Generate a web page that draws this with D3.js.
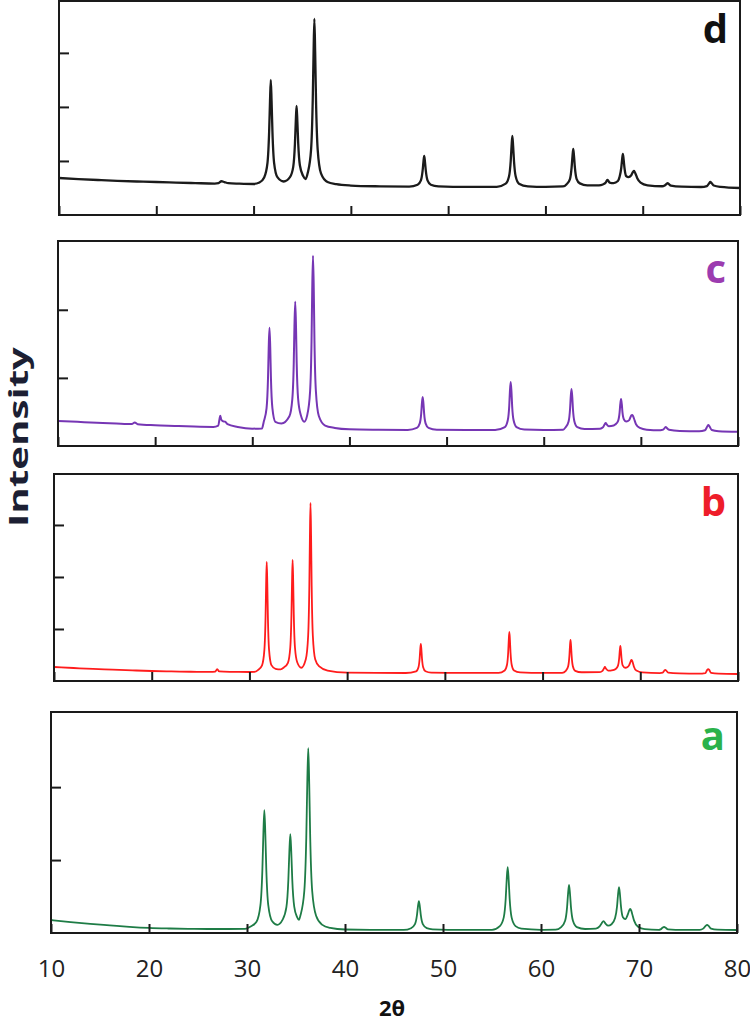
<!DOCTYPE html>
<html>
<head>
<meta charset="utf-8">
<script src="https://cdn.jsdelivr.net/npm/d3@7"></script>
<style>
  body { margin: 0; background: #fff; }
  svg text { font-family: "Open Sans", "DejaVu Sans", sans-serif; }
</style>
</head>
<body>
<div id="xrd"></div>
<script>
// ---- data ----
var sampleNames = ["d", "c", "b", "a"];
var xTicks = [10, 20, 30, 40, 50, 60, 70, 80];
var yTicksD = [1000, 2000, 3000],
    yTicksC = [1000, 2000],
    yTicksB = [1000, 2000, 3000],
    yTicksA = [1000, 2000];
var yMaxes = [3960, 3010, 3980, 3030];

// [2theta, intensity]
var xrdD = [[10,685],[12,665],[14,648],[16,632],[18,620],[20,611],[22,600],[24,590],[26,582],[26.4,590],[26.7,625],[27.0,610],[27.4,588],[28.5,580],[30,574],[30.6,600],
  [31.09,695],[31.43,965],[31.60,1540],[31.69,2115],[31.77,2500],[31.85,2115],[31.94,1540],[32.11,965],[32.45,700],[33.1,620],
  [33.74,700],[34.08,895],[34.25,1315],[34.34,1735],[34.42,2018],[34.50,1735],[34.59,1320],[34.76,920],[35.1,720],[35.35,665],
  [35.57,780],[35.91,1210],[36.08,2115],[36.17,3025],[36.25,3630],[36.33,3025],[36.42,2115],[36.59,1210],[36.93,770],[37.6,610],[38.5,570],[40,545],[43,530],[46,525],
  [46.86,560],[47.20,640],[47.37,810],[47.46,980],[47.54,1093],[47.62,980],[47.71,810],[47.88,640],[48.22,560],[49,530],[52,520],[55,522],
  [55.92,580],[56.26,715],[56.43,995],[56.52,1275],[56.6,1463],[56.68,1275],[56.77,995],[56.94,715],[57.28,580],[58.2,530],[60,520],[61.8,528],
  [62.18,570],[62.52,665],[62.69,875],[62.78,1085],[62.86,1222],[62.94,1085],[63.03,875],[63.20,670],[63.54,585],[64.3,548],[65.5,550],
  [65.9,565],[66.2,600],[66.3,635],[66.38,648],[66.46,632],[66.6,600],[67.0,590],[67.45,630],
  [67.62,706],[67.79,865],[67.88,1024],[67.96,1130],[68.04,1024],[68.13,865],[68.30,720],[68.55,700],
  [68.8,730],[68.93,775],[69.02,800],[69.1,815],[69.18,795],[69.27,760],[69.44,680],[69.78,600],[70.5,550],[72,532],
  [72.25,545],[72.45,575],[72.56,590],[72.67,575],[72.9,545],[74,525],[76,518],
  [76.6,535],[76.82,585],[76.95,611],[77.08,590],[77.3,545],[78,520],[80,500]];

var xrdC = [[10,368],[12,355],[14,342],[16,330],[17.6,322],[17.9,345],[18.2,320],[20,305],[22,295],[24,285],[26,280],[26.5,300],
  [26.62,390],[26.7,446],[26.78,400],[26.95,365],[27.2,357],[27.45,320],[28.5,280],[30,255],[31.0,258],
  [31.17,350],[31.47,555],[31.62,1000],[31.69,1440],[31.77,1735],[31.85,1440],[31.92,1000],[32.07,555],[32.37,355],[33.0,330],
  [33.82,437],[34.12,688],[34.27,1224],[34.34,1760],[34.42,2118],[34.50,1760],[34.57,1224],[34.72,690],[35.0,450],[35.35,357],
  [35.65,450],[35.95,800],[36.10,1547],[36.17,2295],[36.25,2794],[36.33,2295],[36.40,1547],[36.55,800],[36.85,440],[37.5,300],[38.5,265],[40,245],[43,238],[46,235],
  [46.94,265],[47.24,332],[47.39,478],[47.46,623],[47.54,720],[47.62,623],[47.69,478],[47.84,332],[48.14,265],[49,238],[52,235],[55,236],
  [56.0,278],[56.3,377],[56.45,588],[56.52,800],[56.6,941],[56.68,800],[56.75,588],[56.9,377],[57.2,278],[58,242],[60,236],[62,240],
  [62.26,276],[62.56,360],[62.71,539],[62.78,718],[62.86,838],[62.94,718],[63.01,539],[63.16,360],[63.46,276],[64.2,250],[65.8,255],
  [66.1,275],[66.28,320],[66.38,338],[66.48,318],[66.7,290],[67.2,300],
  [67.36,315],[67.66,370],[67.81,490],[67.88,610],[67.96,690],[68.04,610],[68.11,490],[68.26,390],[68.5,360],
  [68.8,380],[68.95,430],[69.02,448],[69.1,456],[69.18,445],[69.3,400],[69.5,320],[69.9,265],[70.6,240],[72,232],
  [72.3,240],[72.48,270],[72.56,280],[72.65,268],[72.9,238],[74,222],[76,218],
  [76.6,232],[76.85,290],[76.95,309],[77.05,292],[77.3,235],[78,218],[80,210]];

var xrdB = [[10,269],[12,250],[14,232],[16,218],[18,205],[20,192],[22,185],[24,178],[26,175],[26.5,180],[26.7,230],[26.9,185],[28,176],[30,173],[30.5,175],
  [30.87,210],[31.29,302],[31.53,598],[31.65,1232],[31.71,1866],[31.77,2288],[31.83,1866],[31.89,1232],[32.01,598],[32.25,305],[32.67,235],[33.2,225],
  [33.52,260],[33.94,350],[34.18,645],[34.30,1276],[34.36,1906],[34.42,2327],[34.48,1906],[34.54,1276],[34.66,645],[34.90,355],[35.3,255],
  [35.77,420],[36.01,870],[36.13,1827],[36.19,2784],[36.25,3423],[36.31,2784],[36.37,1827],[36.49,870],[36.73,420],[37.15,280],[38,200],[40,160],[43,155],[46,154],
  [47.06,187],[47.30,266],[47.42,433],[47.48,600],[47.54,712],[47.60,600],[47.66,433],[47.78,266],[48.02,187],[48.6,162],[52,155],[55.5,155],
  [56.12,202],[56.36,312],[56.48,548],[56.54,785],[56.6,942],[56.66,785],[56.72,548],[56.84,312],[57.08,202],[57.7,165],[60,155],[62,158],
  [62.38,196],[62.62,284],[62.74,473],[62.80,662],[62.86,788],[62.92,662],[62.98,473],[63.10,284],[63.34,196],[64,168],[65.8,170],
  [66.1,190],[66.28,240],[66.38,269],[66.48,240],[66.7,200],[67.2,210],
  [67.48,230],[67.72,295],[67.84,437],[67.90,580],[67.96,673],[68.02,580],[68.08,437],[68.20,300],[68.45,255],[68.7,270],
  [68.85,300],[68.98,360],[69.04,390],[69.1,404],[69.16,390],[69.22,360],[69.34,280],[69.6,200],[70.2,165],[72,152],
  [72.3,160],[72.46,200],[72.56,212],[72.66,200],[72.85,160],[74,145],[76,140],
  [76.65,150],[76.85,215],[76.95,230],[77.05,215],[77.25,155],[78,140],[80,135]];

var xrdA = [[10,178],[12,150],[14,125],[16,105],[18,85],[20,70],[22,62],[24,57],[26,55],[28,55],[29.8,56],
  [30.37,89],[30.97,154],[31.37,382],[31.57,871],[31.67,1359],[31.77,1685],[31.87,1359],[31.97,871],[32.17,382],[32.57,160],[33.1,112],
  [33.62,180],[34.02,355],[34.22,730],[34.32,1106],[34.42,1356],[34.52,1106],[34.62,730],[34.82,360],[35.1,220],[35.3,180],
  [35.45,240],[35.85,580],[36.05,1312],[36.15,2045],[36.25,2534],[36.35,2045],[36.45,1312],[36.65,580],[37.05,236],[37.65,115],[38.5,70],[40,48],[44,43],[46,42],
  [46.74,66],[47.14,121],[47.34,240],[47.44,359],[47.54,438],[47.64,359],[47.74,240],[47.94,121],[48.34,66],[48.94,50],[52,42],[55,42],
  [55.8,94],[56.2,214],[56.4,473],[56.5,732],[56.6,904],[56.7,732],[56.8,473],[57.0,214],[57.4,94],[58.0,59],[60,44],[61.5,45],
  [62.06,81],[62.46,167],[62.66,351],[62.76,535],[62.86,658],[62.96,535],[63.06,351],[63.26,167],[63.66,81],[64.5,55],[65.6,60],
  [65.98,90],[66.18,130],[66.38,164],[66.58,130],[66.85,100],[67.2,120],
  [67.56,206],[67.76,365],[67.86,524],[67.96,630],[68.06,524],[68.16,365],[68.36,215],[68.6,190],
  [68.9,270],[69.0,310],[69.1,329],[69.2,310],[69.3,265],[69.5,170],[69.9,85],[70.6,52],[72,44],
  [72.2,50],[72.4,72],[72.56,82],[72.72,72],[72.95,50],[74.5,42],[76.2,44],
  [76.55,60],[76.8,98],[76.95,110],[77.1,98],[77.35,60],[78,45],[80,41]];

// ---- layout ----
var W = 750, H = 1021;
var panels = [
  {data: xrdD, ticks: yTicksD, left: 59, right: 740, top: 1,   bottom: 215, line: "#1b1b1b", lab: "#111111", lw: 2.3},
  {data: xrdC, ticks: yTicksC, left: 58, right: 738, top: 241, bottom: 446, line: "#7636b4", lab: "#9c3cb0", lw: 2},
  {data: xrdB, ticks: yTicksB, left: 54, right: 738, top: 474, bottom: 681, line: "#ff1c1c", lab: "#ee1d2a", lw: 1.8},
  {data: xrdA, ticks: yTicksA, left: 51, right: 737, top: 712, bottom: 933, line: "#1e7c46", lab: "#2bb24a", lw: 1.8}
];

var svg = d3.select("#xrd")
  .append("svg")
    .attr("width", W)
    .attr("height", H);

panels.forEach(function(p, i) {
  var x = d3.scaleLinear().domain([10, 80]).range([p.left, p.right]);
  var y = d3.scaleLinear().domain([0, yMaxes[i]]).range([p.bottom, p.top]);
  var last = (i == panels.length - 1);

  var g = svg.append("g").attr("class", "panel-" + sampleNames[i]);

  // pattern
  var line = d3.line()
    .curve(d3.curveMonotoneX)
    .x(function(d) { return x(d[0]); })
    .y(function(d) { return y(d[1]); });

  g.append("path")
    .datum(p.data)
    .attr("fill", "none")
    .attr("stroke", p.line)
    .attr("stroke-width", p.lw)
    .attr("stroke-linejoin", "round")
    .attr("d", line);

  // x ticks point inward
  var xa = g.append("g")
    .attr("transform", "translate(0," + p.bottom + ")")
    .call(d3.axisBottom(x).tickValues(xTicks).tickSizeInner(-9).tickSizeOuter(0).tickPadding(27));
  xa.select(".domain").remove();
  xa.selectAll("line").attr("stroke", "#1a1a1a").attr("stroke-width", 2);
  if (last) {
    xa.selectAll("text").attr("font-size", 24).attr("fill", "#222");
  } else {
    xa.selectAll("text").remove();
  }

  var ya = g.append("g")
    .attr("transform", "translate(" + p.left + ",0)")
    .call(d3.axisLeft(y).tickValues(p.ticks).tickSizeInner(-10).tickSizeOuter(0).tickFormat(""));
  ya.select(".domain").remove();
  ya.selectAll("line").attr("stroke", "#1a1a1a").attr("stroke-width", 2);

  // frame
  g.append("rect")
    .attr("x", p.left)
    .attr("y", p.top)
    .attr("width", p.right - p.left)
    .attr("height", p.bottom - p.top)
    .attr("fill", "none")
    .attr("stroke", "#1a1a1a")
    .attr("stroke-width", 2);

  // sample letter
  g.append("text")
    .attr("x", p.right - 12)
    .attr("y", p.top + (i == 3 ? 38 : 42))
    .attr("text-anchor", "end")
    .attr("font-size", 40)
    .attr("font-weight", "bold")
    .attr("fill", p.lab)
    .text(sampleNames[i]);
});

// axis titles
svg.append("text")
  .attr("x", 392)
  .attr("y", 1016)
  .attr("text-anchor", "middle")
  .attr("font-size", 22)
  .attr("font-weight", "bold")
  .attr("fill", "#111")
  .text("2\u03B8");

svg.append("text")
  .attr("transform", "translate(28,437) rotate(-90)")
  .attr("text-anchor", "middle")
  .attr("font-size", 27)
  .attr("font-weight", "bold")
  .attr("fill", "#1c1f33")
  .attr("textLength", 180)
  .attr("lengthAdjust", "spacingAndGlyphs")
  .text("Intensity");
</script>
</body>
</html>
